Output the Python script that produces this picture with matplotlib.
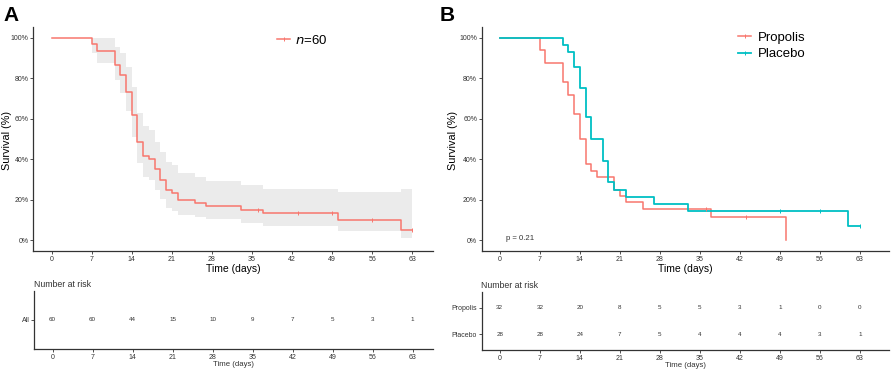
import numpy as np
import matplotlib
matplotlib.use("Agg")
import matplotlib.pyplot as plt
from matplotlib.lines import Line2D

plt.rcParams['font.family'] = ['Liberation Sans', 'DejaVu Sans']

RED = "#F8766D"
CYAN = "#00BFC4"
DARK = "#333333"

# Panel A: all patients (KM steps, survival %, 95% CI)
a_time = [0, 7, 8, 11, 12, 13, 14, 15, 16, 17, 18, 19, 20, 21, 22, 25, 27, 33, 37, 50, 61, 63]
a_surv = [100, 96.7, 93.3, 86.7, 81.7, 73.3, 61.7, 48.3, 41.7, 40.0, 35.0, 30.0, 25.0, 23.3,
          20.0, 18.3, 16.7, 15.0, 13.3, 10.0, 5.0, 5.0]
a_upper = [100, 100, 100, 95.6, 92.5, 85.7, 75.5, 62.7, 56.6, 54.6, 48.7, 43.8, 38.8, 37.2,
           33.1, 31.4, 29.3, 27.3, 25.2, 23.7, 25.2, 25.2]
a_lower = [100, 92.6, 87.7, 79.1, 72.9, 63.8, 51.2, 38.0, 31.4, 29.8, 24.8, 20.2, 15.8, 14.6,
           12.5, 11.3, 10.5, 8.7, 7.1, 4.6, 1.3, 1.3]
a_censor = [36, 43, 49, 56, 63]
a_risk = [60, 60, 44, 15, 10, 9, 7, 5, 3, 1]

# Panel B: Propolis vs Placebo
prop_time = [0, 7, 8, 11, 12, 13, 14, 15, 16, 17, 20, 21, 22, 25, 37, 50]
prop_surv = [100, 93.75, 87.5, 78.1, 71.9, 62.5, 50.0, 37.5, 34.4, 31.25, 25.0, 21.9, 18.75,
             15.6, 11.7, 0]
prop_censor = [36, 43]
prop_risk = [32, 32, 20, 8, 5, 5, 3, 1, 0, 0]

plac_time = [0, 11, 12, 13, 14, 15, 16, 18, 19, 20, 22, 27, 33, 61, 63]
plac_surv = [100, 96.4, 92.9, 85.7, 75.0, 60.7, 50.0, 39.3, 28.6, 25.0, 21.4, 17.9, 14.3, 7.1, 7.1]
plac_censor = [49, 56, 63]
plac_risk = [28, 28, 24, 7, 5, 4, 4, 4, 3, 1]

risk_times = [0, 7, 14, 21, 28, 35, 42, 49, 56, 63]
p_value = "p = 0.21"


def step_value(times, surv, t):
    i = np.searchsorted(times, t, side="right") - 1
    return surv[i]


def style_axes(ax, xlim):
    for s in ["top", "right"]:
        ax.spines[s].set_visible(False)
    for s in ["left", "bottom"]:
        ax.spines[s].set_color(DARK)
        ax.spines[s].set_linewidth(0.9)
    ax.set_xlim(*xlim)
    ax.set_xticks(risk_times)
    ax.tick_params(axis="both", labelsize=5, length=2.0, width=0.6, color=DARK,
                   labelcolor=DARK, pad=1.5)


def km_panel(ax, xlim):
    style_axes(ax, xlim)
    ax.set_ylim(-5.1, 105.4)
    ax.set_yticks([0, 20, 40, 60, 80, 100])
    ax.set_yticklabels(["0%", "20%", "40%", "60%", "80%", "100%"])
    ax.set_xlabel("Time (days)", fontsize=7.5, color="black", labelpad=1)


def draw_curve(ax, times, surv, censor, color, lw=1.1):
    ax.step(times, surv, where="post", color=color, lw=lw, zorder=3)
    cy = [step_value(times, surv, t) for t in censor]
    ax.plot(censor, cy, ls="none", marker="|", ms=3.5, mew=0.7, color=color, zorder=4)


def risk_panel(ax, xlim, labels, rows, ylim):
    style_axes(ax, xlim)
    ax.set_ylim(*ylim)
    ypos = list(range(len(rows), 0, -1))
    for y, row in zip(ypos, rows):
        for t, n in zip(risk_times, row):
            ax.text(t, y, str(n), fontsize=4.5, ha="center", va="center", color=DARK)
    ax.set_yticks(ypos)
    ax.set_yticklabels(labels)
    ax.set_title("Number at risk", fontsize=6.3, loc="left", pad=3, color=DARK, x=-0.002)
    ax.set_xlabel("Time (days)", fontsize=5.6, color=DARK, labelpad=0)


fig = plt.figure(figsize=(8.92, 3.71), dpi=100)

# ---- Panel A
axA = fig.add_axes([0.0373, 0.3243, 0.4481, 0.6038])
km_panel(axA, (-3.2, 66.6))
axA.fill_between(a_time, a_lower, a_upper, step="post", color="#EBEBEB", lw=0, zorder=1)
draw_curve(axA, a_time, a_surv, a_censor, RED)
hA = [Line2D([0], [0], color=RED, lw=1.1, marker="|", ms=3.5, mew=0.7)]
axA.legend(hA, ["$n$=60"], loc="upper left", bbox_to_anchor=(0.58, 1.02), frameon=False,
           fontsize=9.5, handlelength=1.0, handletextpad=0.4)
fig.text(7.5 / 892, 1 - 140 / 371, "Survival (%)", rotation=90, fontsize=7.8,
         ha="center", va="center")

rA = fig.add_axes([0.0385, 0.0585, 0.447, 0.158])
risk_panel(rA, (-3.2, 66.6), ["All"], [a_risk], (0.5, 1.5))

# ---- Panel B
axB = fig.add_axes([0.5404, 0.3243, 0.4563, 0.6038])
km_panel(axB, (-3.1, 68.1))
draw_curve(axB, prop_time, prop_surv, prop_censor, RED)
draw_curve(axB, plac_time, plac_surv, plac_censor, CYAN, lw=1.3)
axB.text(1.1, 0.8, p_value, fontsize=5.6, ha="left", va="center", color=DARK)
hB = [Line2D([0], [0], color=RED, lw=1.1, marker="|", ms=3.5, mew=0.7),
      Line2D([0], [0], color=CYAN, lw=1.3, marker="|", ms=3.5, mew=0.7)]
axB.legend(hB, ["Propolis", "Placebo"], loc="upper left", bbox_to_anchor=(0.6, 1.03),
           frameon=False, fontsize=9.5, handlelength=1.0, handletextpad=0.5,
           labelspacing=0.3)
fig.text(453.5 / 892, 1 - 140 / 371, "Survival (%)", rotation=90, fontsize=7.8,
         ha="center", va="center")

rB = fig.add_axes([0.5404, 0.0566, 0.4563, 0.1572])
risk_panel(rB, (-3.1, 68.1), ["Propolis", "Placebo"], [prop_risk, plac_risk], (0.4, 2.6))

fig.text(0.004, 0.985, "A", fontsize=15, fontweight="bold", va="top", ha="left")
fig.text(0.493, 0.985, "B", fontsize=15, fontweight="bold", va="top", ha="left")

fig.savefig("out.png", dpi=100)
